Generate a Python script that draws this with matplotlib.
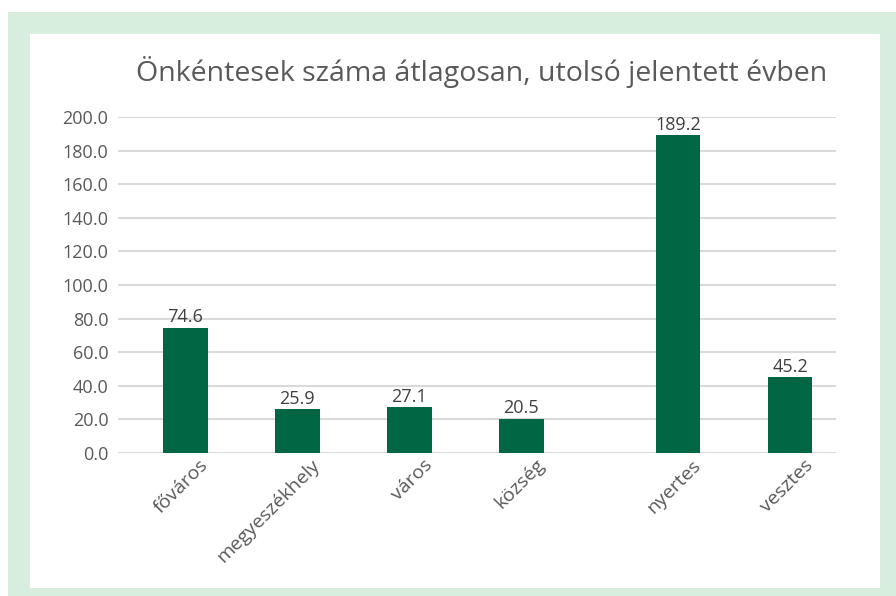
import matplotlib.pyplot as plt
from matplotlib.patches import Rectangle
import matplotlib.transforms as mtransforms

# chart data
categories = ["főváros", "megyeszékhely", "város", "község", "nyertes", "vesztes"]
values = [74.6, 25.9, 27.1, 20.5, 189.2, 45.2]
yticks = [0, 20, 40, 60, 80, 100, 120, 140, 160, 180, 200]

# layout: the last two bars sit after a small gap
positions = [0, 1, 2, 3, 4.4, 5.4]

plt.rcParams['font.family'] = ['Open Sans', 'DejaVu Sans']

fig = plt.figure(figsize=(8.96, 5.96), dpi=100)

# light green frame with white panel inside
fig.patches.append(Rectangle((8 / 896, 0), 1, 1 - 12 / 596, transform=fig.transFigure,
                             facecolor="#d7eddd", edgecolor="none", zorder=-2))
fig.patches.append(Rectangle((30 / 896, 8 / 596), (880 - 30) / 896, (588 - 34) / 596,
                             transform=fig.transFigure, facecolor="white",
                             edgecolor="none", zorder=-1))

ax = fig.add_axes([118 / 896, 1 - 453 / 596, (836 - 118) / 896, (453 - 117) / 596])
ax.set_zorder(1)
ax.patch.set_alpha(0)

bars = ax.bar(positions, values, width=0.4, color="#006644", zorder=3)

for x, v in zip(positions, values):
    ax.annotate(f"{v:.1f}", (x, v), xytext=(0, 1), textcoords="offset points",
                ha="center", va="bottom", fontsize=13, color="#404040")

ax.set_ylim(0, 200)
ax.set_xlim(-0.6, 5.81)
ax.set_yticks(yticks)
ax.set_yticklabels([f"{t:.1f}" for t in yticks])
ax.yaxis.grid(True, color="#d9d9d9", linewidth=1.5, zorder=0)
ax.set_axisbelow(True)
ax.tick_params(axis="y", length=0, pad=7, labelsize=13, labelcolor="#595959")
ax.tick_params(axis="x", length=0, pad=2, labelsize=14, labelcolor="#595959")

ax.set_xticks(positions)
ax.set_xticklabels(categories, rotation=45, ha="right", rotation_mode="anchor")
offset = mtransforms.ScaledTranslation(10 / 72, 0, fig.dpi_scale_trans)
for lbl in ax.get_xticklabels():
    lbl.set_transform(lbl.get_transform() + offset)

for s in ax.spines.values():
    s.set_visible(False)

fig.text(482 / 896, 1 - 72 / 596, "Önkéntesek száma átlagosan, utolsó jelentett évben",
         ha="center", va="center", fontsize=20.5, color="#595959")

fig.savefig("out.png", dpi=100)
